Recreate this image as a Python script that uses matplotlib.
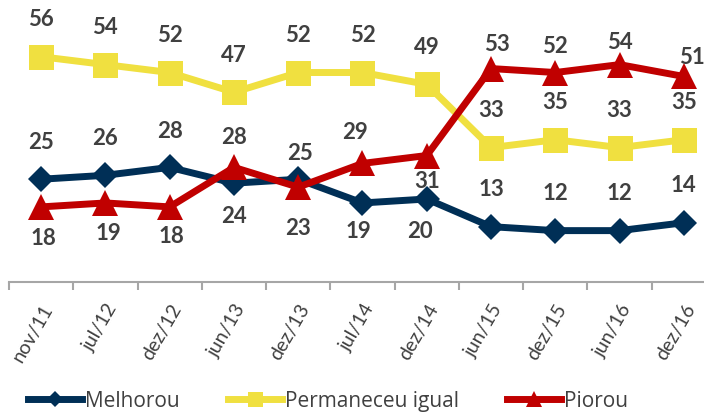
import matplotlib
matplotlib.use("Agg")
import matplotlib.pyplot as plt

# survey periods
periods = ["nov/11", "jul/12", "dez/12", "jun/13", "dez/13", "jul/14",
           "dez/14", "jun/15", "dez/15", "jun/16", "dez/16"]

# % of answers
melhorou = [25, 26, 28, 24, 25, 19, 20, 13, 12, 12, 14]
permaneceu = [56, 54, 52, 47, 52, 52, 49, 33, 35, 33, 35]
piorou = [18, 19, 18, 28, 23, 29, 31, 53, 52, 54, 51]

# label offsets in pixels (dx, dy), positive dy = above the point
off_melhorou = [(0, 38), (0, 38), (0, 37), (0, -32), (2, 27), (-4, -28),
                (-7, -32), (0, 38), (0, 38), (0, 38), (0, 38)]
off_permaneceu = [(0, 38)] * 11
off_piorou = [(2, -31), (3, -30), (2, -29), (0, 31), (0, -40), (-7, 32),
              (0, -25), (6, 25), (0, 27), (0, 23), (8, 20)]

NAVY = "#002F56"
YELLOW = "#F0E040"
RED = "#C00000"
TXT = "#404040"

plt.rcParams["font.family"] = ["Lato", "DejaVu Sans"]

fig = plt.figure(figsize=(7.04, 4.14), dpi=100)
ax = fig.add_axes([9 / 704, 131 / 414, 707 / 704, 283 / 414])

x = list(range(len(periods)))
series = [
    ("Melhorou", melhorou, NAVY, "D", 13, off_melhorou),
    ("Permaneceu igual", permaneceu, YELLOW, "s", 18, off_permaneceu),
    ("Piorou", piorou, RED, "^", 19, off_piorou),
]

for name, vals, col, mk, ms, offs in series:
    ax.plot(x, vals, color=col, lw=5, marker=mk, markersize=ms,
            markeredgewidth=0, label=name, solid_joinstyle="miter")
    for xi, v, (dx, dy) in zip(x, vals, offs):
        ax.annotate(str(v), (xi, v), xytext=(dx, dy), textcoords="offset pixels",
                    ha="center", va="center", fontsize=16, fontweight="bold",
                    color=TXT, annotation_clip=False)

ax.set_xlim(-0.5, len(periods) - 0.5)
ax.set_ylim(-1, 70.6)

for s in ["top", "right", "left"]:
    ax.spines[s].set_visible(False)
ax.spines["bottom"].set_color("#A6A6A6")
ax.spines["bottom"].set_linewidth(1.5)
ax.set_yticks([])

# tick marks between categories, labels on categories
ax.set_xticks([i - 0.5 for i in range(len(periods) + 1)])
ax.set_xticklabels([])
ax.tick_params(axis="x", which="major", length=6, width=1.5, color="#A6A6A6")
ax.set_xticks(x, minor=True)
ax.set_xticklabels(periods, minor=True, rotation=60, ha="right",
                   rotation_mode="anchor", fontsize=14, color=TXT)
ax.tick_params(axis="x", which="minor", length=0, pad=13)

leg = fig.legend(loc="center left", bbox_to_anchor=(28 / 704, 1 - 402 / 414),
                 ncol=3, frameon=False, handlelength=2.6,
                 handletextpad=0.15, columnspacing=2.3, markerscale=0.6,
                 borderaxespad=0, borderpad=0,
                 prop={"family": ["Open Sans", "DejaVu Sans"], "size": 15})
for t in leg.get_texts():
    t.set_color(TXT)

fig.savefig("out.png", dpi=100)
